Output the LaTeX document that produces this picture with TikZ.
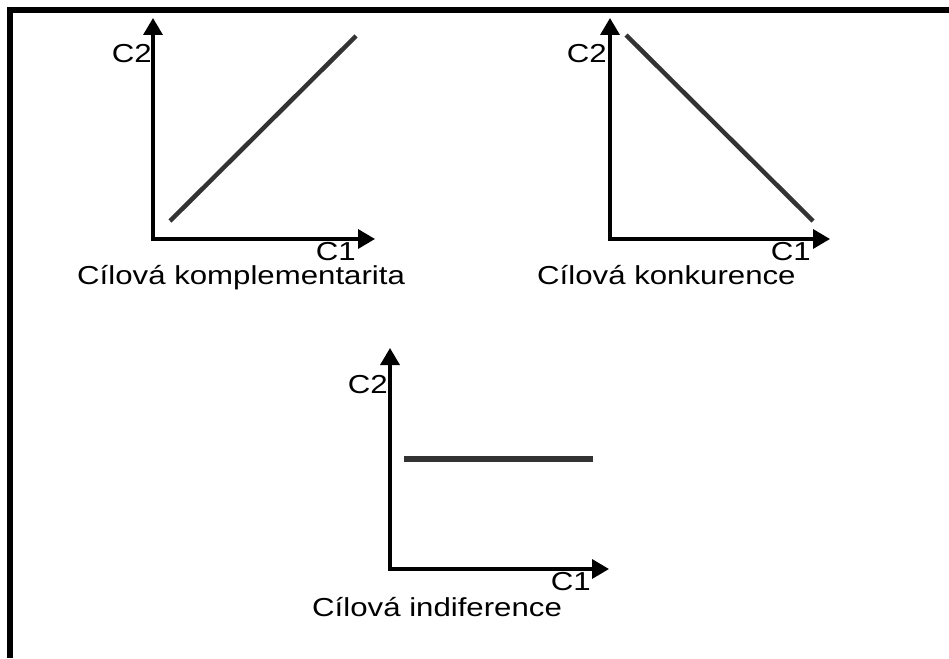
\documentclass[tikz,border=0pt]{standalone}
\usepackage{fontspec}
\setmainfont[FakeStretch=1.2]{Liberation Sans}
\usetikzlibrary{arrows.meta}
\begin{document}
\begin{tikzpicture}[x=1pt,y=-1pt,
  axis/.style={line width=3.5pt,line join=miter,{Triangle[length=17pt,width=19pt]}-{Triangle[length=17pt,width=19pt]}},
  curve/.style={line width=4.5pt,draw=black!80},
  lbl/.style={inner sep=0pt,anchor=base east,font=\fontsize{26}{30}\selectfont},
  ttl/.style={inner sep=0pt,anchor=base west,font=\fontsize{26}{30}\selectfont}]
\useasboundingbox (0,0) rectangle (949,658);
\fill[white] (0,0) rectangle (949,658);
% frame
\draw[line width=6pt,line join=miter] (10,658) -- (10,10) -- (949,10);
% chart 1
\coordinate (a1y) at (153,18);
\coordinate (a1o) at (153,239);
\coordinate (a1x) at (375,239);
\draw[axis] (a1y) -- (a1o) -- (a1x);
\draw[curve] (170,221) -- (356,36);
\node[lbl] (c2a) at (152,63) {C2};
\node[lbl] (c1a) at (356,260) {C1};
\node[ttl] (t1) at (77,284) {Cílová komplementarita};
% chart 2
\coordinate (a2y) at (610,18);
\coordinate (a2o) at (610,239);
\coordinate (a2x) at (830,239);
\draw[axis] (a2y) -- (a2o) -- (a2x);
\draw[curve] (626,35) -- (813,221);
\node[lbl] (c2b) at (607,63) {C2};
\node[lbl] (c1b) at (811,260) {C1};
\node[ttl] (t2) at (537,284) {Cílová konkurence};
% chart 3
\coordinate (a3y) at (390,348);
\coordinate (a3o) at (390,569);
\coordinate (a3x) at (609,569);
\draw[axis] (a3y) -- (a3o) -- (a3x);
\draw[curve,line width=5.5pt] (404,459) -- (593,459);
\node[lbl] (c2c) at (388,393) {C2};
\node[lbl] (c1c) at (591,590) {C1};
\node[ttl] (t3) at (312,616) {Cílová indiference};
\end{tikzpicture}
\end{document}
